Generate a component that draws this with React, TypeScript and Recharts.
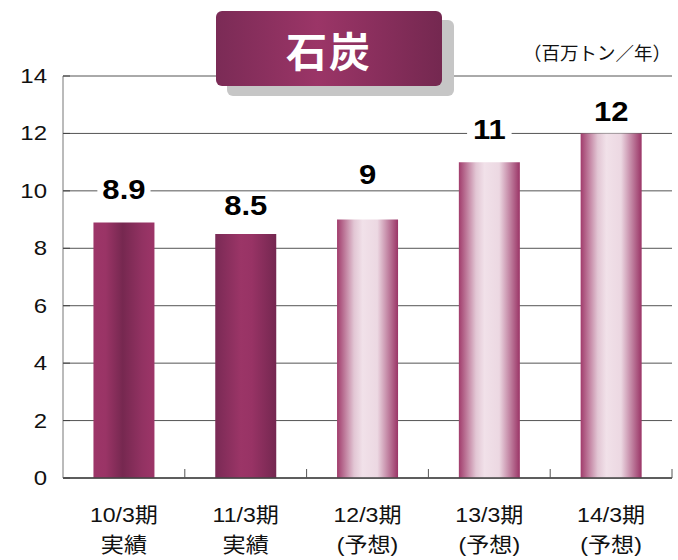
import React from 'react';
import { BarChart, Bar, XAxis, YAxis, CartesianGrid, Cell, LabelList } from 'recharts';

const periods = ['10/3期', '11/3期', '12/3期', '13/3期', '14/3期'];
const periodNotes = ['実績', '実績', '(予想)', '(予想)', '(予想)'];
const coalValues = [8.9, 8.5, 9, 11, 12];
const yTicks = [0, 2, 4, 6, 8, 10, 12, 14];
const titleText = '石炭';
const unitText = '（百万トン／年）';
const labelLift = [33, 28, 45, 33, 22];

const data = periods.map((p, i) => ({ period: p, note: periodNotes[i], value: coalValues[i] }));

const FONT = "'Liberation Sans', Arial, 'Noto Sans CJK JP', sans-serif";

const XTick = (props: any) => {
  const { x, y, payload } = props;
  const i = payload.index ?? props.index ?? 0;
  const off = payload.offset ?? 0;
  return (
    <g>
      {i > 0 && <line x1={x - off} x2={x - off} y1={y} y2={y - 9} stroke="#555" strokeWidth={1} />}
      {i === periods.length - 1 && (
        <line x1={x + off} x2={x + off} y1={y} y2={y - 9} stroke="#555" strokeWidth={1} />
      )}
      <g transform={`translate(${x} ${y}) scale(1.1 1)`}>
        <text x={0} y={0} textAnchor="middle" fontSize={21} fill="#111" fontFamily={FONT}>
          <tspan x={0} dy={44}>{payload.value}</tspan>
          <tspan x={0} dy={30}>{periodNotes[i]}</tspan>
        </text>
      </g>
    </g>
  );
};

const YTick = (props: any) => {
  const { x, y, payload } = props;
  return (
    <g>
      <line x1={x + 16} x2={x + 23} y1={y} y2={y} stroke="#444" strokeWidth={1} />
      <g transform={`translate(${x} ${y}) scale(1.2 1)`}>
        <text x={0} y={0} dy={7} textAnchor="end" fontSize={20} fill="#111" fontFamily={FONT}>
          {payload.value}
        </text>
      </g>
    </g>
  );
};

const BarLabel = (props: any) => {
  const { x, y, width, value } = props;
  const idx = props.index ?? coalValues.indexOf(value);
  const cx = Number(x) + Number(width) / 2;
  const cy = Number(y) - (labelLift[idx] ?? 30);
  const s = String(value);
  const fs = 27;
  const sx = 1.15;
  let w = 0;
  for (const ch of s) w += ch === '.' ? 0.278 * fs : 0.556 * fs;
  w *= sx;
  return (
    <g>
      <rect x={cx - w / 2 - 5} y={cy - 14} width={w + 10} height={28} fill="#fff" />
      <g transform={`translate(${cx} ${cy}) scale(${sx} 1)`}>
        <text
          x={0}
          y={0}
          dy={9.5}
          textAnchor="middle"
          fontSize={fs}
          fontWeight="bold"
          fill="#000"
          fontFamily={FONT}
        >
          {s}
        </text>
      </g>
    </g>
  );
};

const fillFor = (i: number) => {
  if (periodNotes[i].includes('予想')) return 'url(#gradLight)';
  return i === 0 ? 'url(#gradDarkA)' : 'url(#gradDarkB)';
};

export default function App() {
  return (
    <div style={{ position: 'absolute', left: 0, top: 0, width: 678, height: 560, background: '#fff' }}>
      <BarChart
        width={678}
        height={560}
        data={data}
        margin={{ top: 76, right: 6, bottom: 0, left: 0 }}
        barCategoryGap="25%"
      >
        <defs>
          <linearGradient id="gradDarkA" x1="0" y1="0" x2="1" y2="0">
            <stop offset="0%" stopColor="#9d3568" />
            <stop offset="20%" stopColor="#9a3466" />
            <stop offset="48%" stopColor="#762850" />
            <stop offset="80%" stopColor="#923262" />
            <stop offset="100%" stopColor="#9d3568" />
          </linearGradient>
          <linearGradient id="gradDarkB" x1="0" y1="0" x2="1" y2="0">
            <stop offset="0%" stopColor="#7a2a55" />
            <stop offset="42%" stopColor="#9b3567" />
            <stop offset="60%" stopColor="#983365" />
            <stop offset="100%" stopColor="#742750" />
          </linearGradient>
          <linearGradient id="gradLight" x1="0" y1="0" x2="1" y2="0">
            <stop offset="0%" stopColor="#a13c6c" />
            <stop offset="28%" stopColor="#e2c6d4" />
            <stop offset="42%" stopColor="#f1e1e9" />
            <stop offset="66%" stopColor="#ecd8e2" />
            <stop offset="100%" stopColor="#9a3466" />
          </linearGradient>
        </defs>
        <CartesianGrid horizontal vertical={false} stroke="#555" strokeWidth={1} />
        <XAxis
          dataKey="period"
          height={82}
          tickLine={false}
          tickSize={0}
          tickMargin={0}
          axisLine={{ stroke: '#444', strokeWidth: 1.5 }}
          tick={<XTick />}
          interval={0}
        />
        <YAxis
          width={63}
          domain={[0, 14]}
          ticks={yTicks}
          tickLine={false}
          tickSize={0}
          tickMargin={16}
          axisLine={{ stroke: '#777', strokeWidth: 1 }}
          tick={<YTick />}
          interval={0}
        />
        <Bar dataKey="value" isAnimationActive={false}>
          {data.map((_, i) => (
            <Cell key={i} fill={fillFor(i)} />
          ))}
          <LabelList dataKey="value" content={<BarLabel />} />
        </Bar>
      </BarChart>
      <div
        style={{
          position: 'absolute',
          left: 227,
          top: 20,
          width: 227,
          height: 76,
          borderRadius: 6,
          background: '#c6c6c6',
        }}
      />
      <div
        style={{
          position: 'absolute',
          left: 216,
          top: 11,
          width: 226,
          height: 75,
          borderRadius: 6,
          background: 'linear-gradient(90deg, #7b2b56 0%, #9b3567 45%, #8a2f5d 70%, #742850 100%)',
          color: '#fff',
          fontFamily: "'Noto Sans CJK JP', sans-serif",
          fontSize: 41,
          fontWeight: 700,
          display: 'flex',
          alignItems: 'center',
          justifyContent: 'center',
          letterSpacing: 2,
        }}
      >
        {titleText}
      </div>
      <div
        style={{
          position: 'absolute',
          right: 7,
          top: 39,
          fontFamily: "'Noto Sans CJK JP', sans-serif",
          fontSize: 18.5,
          color: '#111',
          whiteSpace: 'nowrap',
        }}
      >
        {unitText}
      </div>
    </div>
  );
}
